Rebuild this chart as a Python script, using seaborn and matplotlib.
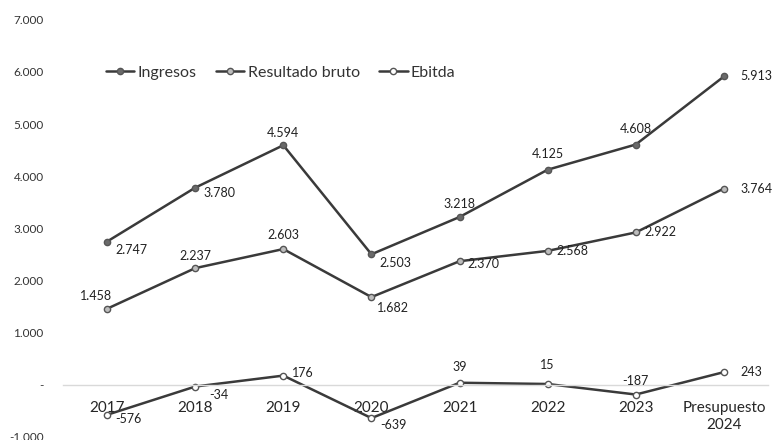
import matplotlib
matplotlib.use('Agg')
import matplotlib.pyplot as plt
import seaborn as sns
import pandas as pd

# Data
categories = ["2017", "2018", "2019", "2020", "2021", "2022", "2023", "Presupuesto\n2024"]
ingresos = [2747, 3780, 4594, 2503, 3218, 4125, 4608, 5913]
resultado_bruto = [1458, 2237, 2603, 1682, 2370, 2568, 2922, 3764]
ebitda = [-576, -34, 176, -639, 39, 15, -187, 243]
series_names = ["Ingresos", "Resultado bruto", "Ebitda"]
y_ticks = [-1000, 0, 1000, 2000, 3000, 4000, 5000, 6000, 7000]

sns.set_theme(style="white")
plt.rcParams['font.family'] = ['Lato', 'DejaVu Sans']

def fmt(v):
    # Spanish thousands separator
    s = f"{abs(v):,}".replace(",", ".")
    return ("-" if v < 0 else "") + s

df = pd.DataFrame({
    "x": list(range(len(categories))) * 3,
    "valor": ingresos + resultado_bruto + ebitda,
    "serie": [n for n in series_names for _ in categories],
})

fig = plt.figure(figsize=(7.73, 4.40), dpi=100)
ax = fig.add_axes([0.0815, 0.007, 0.912, 0.948])

line_col = "#3a3a3a"
marker_face = {"Ingresos": "#6a6a6a", "Resultado bruto": "#bdbdbd", "Ebitda": "white"}
for name in series_names:
    sub = df[df["serie"] == name]
    sns.lineplot(data=sub, x="x", y="valor", ax=ax, color=line_col, lw=1.8,
                 marker="o", markersize=4.5, markerfacecolor=marker_face[name],
                 markeredgecolor="#555555", markeredgewidth=1, label=name)

# data label offsets (points)
off_ing = [(6, -6, 'left'), (6, -4, 'left'), (0, 9, 'center'), (6, -6, 'left'),
           (0, 9, 'center'), (0, 11, 'center'), (0, 11, 'center'), (12, 0, 'left')]
off_res = [(-8, 9, 'center'), (0, 9, 'center'), (0, 10, 'center'), (4, -8, 'left'),
           (6, -2, 'left'), (6, 0, 'left'), (6, 0, 'left'), (12, 0, 'left')]
off_ebi = [(6, -3, 'left'), (10, -6, 'left'), (6, 2, 'left'), (6, -5, 'left'),
           (0, 11, 'center'), (0, 14, 'center'), (0, 10, 'center'), (12, 0, 'left')]
for vals, offs in [(ingresos, off_ing), (resultado_bruto, off_res), (ebitda, off_ebi)]:
    for i, v in enumerate(vals):
        dx, dy, ha = offs[i]
        ax.annotate(fmt(v), (i, v), xytext=(dx, dy), textcoords="offset points",
                    ha=ha, va="center", fontsize=9, color="#222222")

ax.set_xlim(-0.5, len(categories) - 0.5)
ax.set_ylim(-1000, 7000)
ax.set_yticks(y_ticks)
ax.set_yticklabels(["-" if t == 0 else fmt(t) for t in y_ticks], fontsize=8.5, color="#333333")
ax.set_xticks(range(len(categories)))
ax.set_xticklabels(categories, fontsize=9.5, color="#333333")
ax.get_xticklabels()[-1].set_fontsize(8.5)
ax.tick_params(axis='both', length=0, pad=14)
ax.tick_params(axis='x', pad=12)

for s in ["top", "right", "left"]:
    ax.spines[s].set_visible(False)
ax.spines["bottom"].set_position(("data", 0))
ax.spines["bottom"].set_color("#d9d9d9")
ax.spines["bottom"].set_linewidth(1)
ax.set_xlabel("")
ax.set_ylabel("")

ax.legend(loc="center left", bbox_to_anchor=(0.04, 0.873), ncol=3, frameon=False,
          fontsize=11.5, handlelength=1.8, handletextpad=0.2, columnspacing=1.2,
          labelcolor="#333333")

fig.savefig("out.png", dpi=100, facecolor="white")
